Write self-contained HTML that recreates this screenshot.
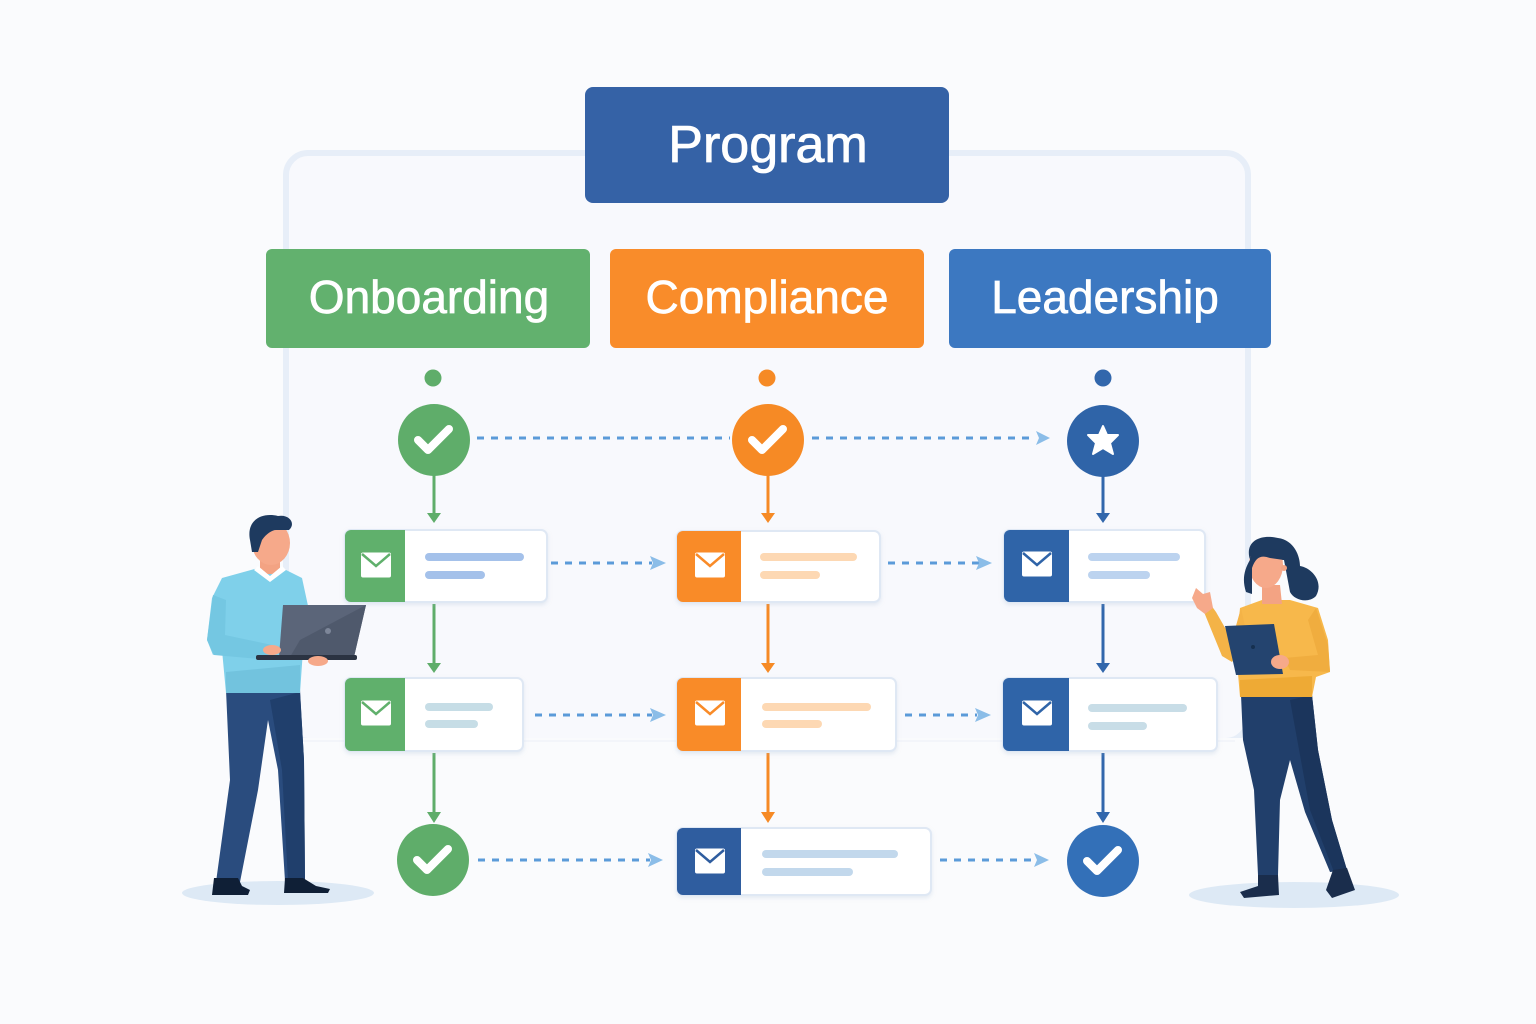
<!DOCTYPE html>
<html><head><meta charset="utf-8"><style>
html,body{margin:0;padding:0;background:#fafbfd;}
svg{display:block;}
text{font-family:"Liberation Sans","DejaVu Sans",sans-serif;}
</style></head><body>
<svg width="1536" height="1024" viewBox="0 0 1536 1024" xmlns="http://www.w3.org/2000/svg">
<defs>
<filter id="sh" x="-10%" y="-10%" width="120%" height="130%"><feDropShadow dx="0" dy="2" stdDeviation="2" flood-color="#9fb3cc" flood-opacity="0.25"/></filter>
<g id="env"><rect x="-15" y="-12.5" width="30" height="25" rx="2" fill="#fff"/></g>
</defs>
<rect width="1536" height="1024" fill="#fafbfd"/>
<!-- frame -->
<rect x="286" y="153" width="962" height="588" rx="22" fill="#f8f9fd" stroke="#e7eef8" stroke-width="6"/>
<rect x="283" y="738" width="968" height="6" fill="#fafbfd"/>
<line x1="300" y1="741" x2="1235" y2="741" stroke="#f3f5fa" stroke-width="2"/>

<!-- Program -->
<rect x="585" y="87" width="364" height="116" rx="8" fill="#3562a6"/>
<text x="768" y="162" font-size="52" fill="#fff" stroke="#fff" stroke-width="0.8" text-anchor="middle">Program</text>

<!-- headers -->
<rect x="266" y="249" width="324" height="99" rx="6" fill="#62b16e"/>
<text x="429" y="313" font-size="46" fill="#fff" stroke="#fff" stroke-width="0.7" text-anchor="middle">Onboarding</text>
<rect x="610" y="249" width="314" height="99" rx="6" fill="#f98c2a"/>
<text x="767" y="313" font-size="46" fill="#fff" stroke="#fff" stroke-width="0.7" text-anchor="middle">Compliance</text>
<rect x="949" y="249" width="322" height="99" rx="6" fill="#3c78c1"/>
<text x="1105" y="313" font-size="46" fill="#fff" stroke="#fff" stroke-width="0.7" text-anchor="middle">Leadership</text>

<!-- small dots -->
<circle cx="433" cy="378" r="8.5" fill="#5fad6a"/>
<circle cx="767" cy="378" r="8.5" fill="#f68a25"/>
<circle cx="1103" cy="378" r="8.5" fill="#3267ac"/>

<!-- dashed horizontals -->
<g stroke="#5b9bd9" stroke-width="3" stroke-dasharray="7 7" fill="none">
<line x1="477" y1="438" x2="730" y2="438"/>
<line x1="812" y1="438" x2="1036" y2="438"/>
<line x1="551" y1="563" x2="652" y2="563"/>
<line x1="888" y1="563" x2="979" y2="563"/>
<line x1="535" y1="715" x2="652" y2="715"/>
<line x1="905" y1="715" x2="977" y2="715"/>
<line x1="478" y1="860" x2="650" y2="860"/>
<line x1="940" y1="860" x2="1036" y2="860"/>
</g>
<g fill="#8bbde8">
<path d="M1036 431 L1050 438 L1036 445 L1039 438Z"/>
<path d="M650 556 L666 563 L650 570 L653 563Z"/>
<path d="M976 556 L992 563 L976 570 L979 563Z"/>
<path d="M650 708 L666 715 L650 722 L653 715Z"/>
<path d="M975 708 L991 715 L975 722 L978 715Z"/>
<path d="M648 853 L663 860 L648 867 L651 860Z"/>
<path d="M1034 853 L1049 860 L1034 867 L1037 860Z"/>
</g>

<!-- vertical arrows -->
<g stroke-width="3">
<line x1="434" y1="474" x2="434" y2="514" stroke="#5fad6a"/>
<line x1="434" y1="604" x2="434" y2="664" stroke="#5fad6a"/>
<line x1="434" y1="753" x2="434" y2="814" stroke="#5fad6a"/>
<line x1="768" y1="474" x2="768" y2="514" stroke="#f68a25"/>
<line x1="768" y1="604" x2="768" y2="664" stroke="#f68a25"/>
<line x1="768" y1="753" x2="768" y2="814" stroke="#f68a25"/>
<line x1="1103" y1="474" x2="1103" y2="514" stroke="#3267ac"/>
<line x1="1103" y1="604" x2="1103" y2="664" stroke="#3267ac"/>
<line x1="1103" y1="753" x2="1103" y2="814" stroke="#3267ac"/>
</g>
<g>
<path d="M427 513 L441 513 L434 523Z" fill="#5fad6a"/>
<path d="M427 663 L441 663 L434 673Z" fill="#5fad6a"/>
<path d="M427 812 L441 812 L434 823Z" fill="#5fad6a"/>
<path d="M761 513 L775 513 L768 523Z" fill="#f68a25"/>
<path d="M761 663 L775 663 L768 673Z" fill="#f68a25"/>
<path d="M761 812 L775 812 L768 823Z" fill="#f68a25"/>
<path d="M1096 513 L1110 513 L1103 523Z" fill="#3267ac"/>
<path d="M1096 663 L1110 663 L1103 673Z" fill="#3267ac"/>
<path d="M1096 812 L1110 812 L1103 823Z" fill="#3267ac"/>
</g>

<!-- circles -->
<circle cx="434" cy="440" r="36" fill="#5fad6a"/>
<polyline points="418,440 428,450 449,429" fill="none" stroke="#fff" stroke-width="8" stroke-linecap="round" stroke-linejoin="round"/>
<circle cx="768" cy="440" r="36" fill="#f68a25"/>
<polyline points="752,440 762,450 783,429" fill="none" stroke="#fff" stroke-width="8" stroke-linecap="round" stroke-linejoin="round"/>
<circle cx="1103" cy="441" r="36" fill="#2f64a8"/>
<path d="M1103 426 L1107 435 L1118 435 L1110 443 L1113 454 L1103 448 L1093 454 L1096 443 L1088 435 L1099 435Z" fill="#fff" stroke="#fff" stroke-width="2" stroke-linejoin="round"/>
<circle cx="433" cy="860" r="36" fill="#5fad6a"/>
<polyline points="417,860 427,870 448,849" fill="none" stroke="#fff" stroke-width="8" stroke-linecap="round" stroke-linejoin="round"/>
<circle cx="1103" cy="861" r="36" fill="#3370b8"/>
<polyline points="1087,861 1097,871 1118,850" fill="none" stroke="#fff" stroke-width="8" stroke-linecap="round" stroke-linejoin="round"/>

<!-- cards -->
<g filter="url(#sh)">
<rect x="345" y="530" width="202" height="72" rx="6" fill="#fff" stroke="#dfe8f4" stroke-width="2"/>
<rect x="677" y="531" width="203" height="71" rx="6" fill="#fff" stroke="#dfe8f4" stroke-width="2"/>
<rect x="1004" y="530" width="201" height="72" rx="6" fill="#fff" stroke="#dfe8f4" stroke-width="2"/>
<rect x="345" y="678" width="178" height="73" rx="6" fill="#fff" stroke="#dfe8f4" stroke-width="2"/>
<rect x="677" y="678" width="219" height="73" rx="6" fill="#fff" stroke="#dfe8f4" stroke-width="2"/>
<rect x="1003" y="678" width="214" height="73" rx="6" fill="#fff" stroke="#dfe8f4" stroke-width="2"/>
<rect x="677" y="828" width="254" height="67" rx="6" fill="#fff" stroke="#dfe8f4" stroke-width="2"/>
</g>
<!-- icon panels -->
<path d="M351 530 H405 V602 H351 A6 6 0 0 1 345 596 V536 A6 6 0 0 1 351 530Z" fill="#60b06c"/>
<path d="M683 531 H741 V602 H683 A6 6 0 0 1 677 596 V537 A6 6 0 0 1 683 531Z" fill="#f98b28"/>
<path d="M1010 530 H1069 V602 H1010 A6 6 0 0 1 1004 596 V536 A6 6 0 0 1 1010 530Z" fill="#2f64a8"/>
<path d="M351 678 H405 V751 H351 A6 6 0 0 1 345 745 V684 A6 6 0 0 1 351 678Z" fill="#60b06c"/>
<path d="M683 678 H741 V751 H683 A6 6 0 0 1 677 745 V684 A6 6 0 0 1 683 678Z" fill="#f98b28"/>
<path d="M1009 678 H1069 V751 H1009 A6 6 0 0 1 1003 745 V684 A6 6 0 0 1 1009 678Z" fill="#2f64a8"/>
<path d="M683 828 H741 V895 H683 A6 6 0 0 1 677 889 V834 A6 6 0 0 1 683 828Z" fill="#2f5d9f"/>
<!-- envelopes -->
<g>
<use href="#env" x="376" y="565"/><polyline points="362,554 376,566 390,554" fill="none" stroke="#60b06c" stroke-width="2.5"/>
<use href="#env" x="710" y="565"/><polyline points="696,554 710,566 724,554" fill="none" stroke="#f98b28" stroke-width="2.5"/>
<use href="#env" x="1037" y="564"/><polyline points="1023,553 1037,565 1051,553" fill="none" stroke="#2f64a8" stroke-width="2.5"/>
<use href="#env" x="376" y="713"/><polyline points="362,702 376,714 390,702" fill="none" stroke="#60b06c" stroke-width="2.5"/>
<use href="#env" x="710" y="713"/><polyline points="696,702 710,714 724,702" fill="none" stroke="#f98b28" stroke-width="2.5"/>
<use href="#env" x="1037" y="713"/><polyline points="1023,702 1037,714 1051,702" fill="none" stroke="#2f64a8" stroke-width="2.5"/>
<use href="#env" x="710" y="861"/><polyline points="696,850 710,862 724,850" fill="none" stroke="#2f5d9f" stroke-width="2.5"/>
</g>
<!-- card text lines -->
<g stroke-linecap="round" stroke-width="8">
<line x1="429" y1="557" x2="520" y2="557" stroke="#a4c1ea"/>
<line x1="429" y1="575" x2="481" y2="575" stroke="#a4c1ea"/>
<line x1="764" y1="557" x2="853" y2="557" stroke="#fdd8b3"/>
<line x1="764" y1="575" x2="816" y2="575" stroke="#fdd8b3"/>
<line x1="1092" y1="557" x2="1176" y2="557" stroke="#bcd3ef"/>
<line x1="1092" y1="575" x2="1146" y2="575" stroke="#bcd3ef"/>
<line x1="429" y1="707" x2="489" y2="707" stroke="#c6dde6"/>
<line x1="429" y1="724" x2="474" y2="724" stroke="#c6dde6"/>
<line x1="766" y1="707" x2="867" y2="707" stroke="#fdd8b3"/>
<line x1="766" y1="724" x2="818" y2="724" stroke="#fdd8b3"/>
<line x1="1092" y1="708" x2="1183" y2="708" stroke="#c8dde7"/>
<line x1="1092" y1="726" x2="1143" y2="726" stroke="#c8dde7"/>
<line x1="766" y1="854" x2="894" y2="854" stroke="#c2d8ec"/>
<line x1="766" y1="872" x2="849" y2="872" stroke="#c2d8ec"/>
</g>

<!-- MAN -->
<ellipse cx="278" cy="893" rx="96" ry="12" fill="#dde9f5"/>
<path d="M226 690 L300 690 L304 760 L305 880 L285 881 L278 770 L268 720 L258 790 L240 882 L216 882 L230 780 Z" fill="#2a4c7e"/>
<path d="M270 700 L300 692 L304 760 L305 880 L288 881 L282 770 Z" fill="#203f6c"/>
<path d="M214 878 L238 878 L242 886 L250 890 L248 895 L212 895 Z" fill="#0f1f36"/>
<path d="M285 878 L303 878 L316 886 L330 889 L328 893 L284 893 Z" fill="#0f1f36"/>
<path d="M222 578 L258 568 L282 568 L302 578 L310 615 L303 650 L300 693 L226 693 L222 650 L213 655 L207 640 L212 598 Z" fill="#7fd0ea"/>
<path d="M226 672 L300 665 L300 693 L226 693Z" fill="#72c3de"/>
<path d="M213 595 L207 640 L214 655 L270 660 L272 645 L225 635 L226 600Z" fill="#74c7e2"/>
<path d="M260 556 L280 556 L280 574 L260 574Z" fill="#f3a383"/>
<path d="M254 570 L270 582 L286 570 L282 566 L270 576 L258 566Z" fill="#fff"/>
<ellipse cx="271" cy="543" rx="19" ry="22" fill="#f6a98a"/>
<path d="M250 540 C246 520 262 512 278 516 C290 514 296 524 289 530 L276 530 C272 530 266 534 262 540 L258 552 L252 552Z" fill="#1e3a5f"/>
<path d="M283 605 L366 605 L354 657 L279 657Z" fill="#5b6579"/>
<path d="M300 640 L366 605 L354 657 L290 657Z" fill="#4f596c"/>
<circle cx="328" cy="631" r="3" fill="#7d8699"/>
<rect x="256" y="655" width="101" height="5" rx="2" fill="#2b3342"/>
<ellipse cx="318" cy="661" rx="10" ry="5" fill="#f6a98a"/>
<ellipse cx="272" cy="650" rx="9" ry="5" fill="#f6a98a"/>

<!-- WOMAN -->
<ellipse cx="1294" cy="895" rx="105" ry="13" fill="#dde9f5"/>
<path d="M1241 695 L1312 695 L1318 750 L1332 820 L1347 870 L1330 872 L1305 812 L1290 760 L1280 800 L1278 875 L1258 875 L1254 790 L1243 740Z" fill="#213f6b"/>
<path d="M1290 700 L1312 695 L1318 750 L1332 820 L1347 870 L1334 872 L1310 810Z" fill="#1b355c"/>
<path d="M1258 875 L1278 875 L1279 895 L1244 898 L1240 892 L1258 886Z" fill="#1a2d4c"/>
<path d="M1333 870 L1347 868 L1355 890 L1332 898 L1326 890Z" fill="#1a2d4c"/>
<path d="M1240 608 L1262 600 L1290 600 L1318 608 L1328 640 L1330 672 L1316 677 L1312 697 L1240 697 L1236 650 Z" fill="#f7b84b"/>
<path d="M1240 680 L1312 676 L1312 697 L1240 697Z" fill="#eeaa35"/>
<path d="M1241 608 L1248 640 L1232 662 L1222 656 L1204 612 L1196 603 L1206 598 L1216 612 L1232 640Z" fill="#f4b347"/>
<path d="M1192 598 L1196 588 L1203 594 L1210 592 L1213 608 L1205 614 L1197 608Z" fill="#f6a98a"/>
<path d="M1225 626 L1274 624 L1283 674 L1236 675Z" fill="#24446f"/>
<circle cx="1253" cy="647" r="2" fill="#16304f"/>
<path d="M1316 608 L1328 645 L1330 672 L1290 670 L1284 658 L1318 655 L1308 620Z" fill="#f0ad3f"/>
<ellipse cx="1280" cy="662" rx="9" ry="7" fill="#f6a98a"/>
<path d="M1262 585 L1280 585 L1282 604 L1262 604Z" fill="#f3a383"/>
<path d="M1250 560 C1244 540 1262 534 1278 538 C1294 540 1300 556 1300 566 C1312 568 1324 582 1316 596 C1308 604 1294 600 1290 592 L1284 560Z" fill="#1e3a5f"/>
<ellipse cx="1266" cy="565" rx="17" ry="23" fill="#f6a98a"/>
<path d="M1250 560 C1250 543 1264 536 1278 540 C1286 544 1286 556 1284 560 L1270 558 C1262 555 1256 556 1252 568 L1252 594 L1246 592 C1242 580 1244 570 1250 560Z" fill="#1e3a5f"/>
<circle cx="1284" cy="568" r="3" fill="#f3a383"/>
</svg>
</body></html>
